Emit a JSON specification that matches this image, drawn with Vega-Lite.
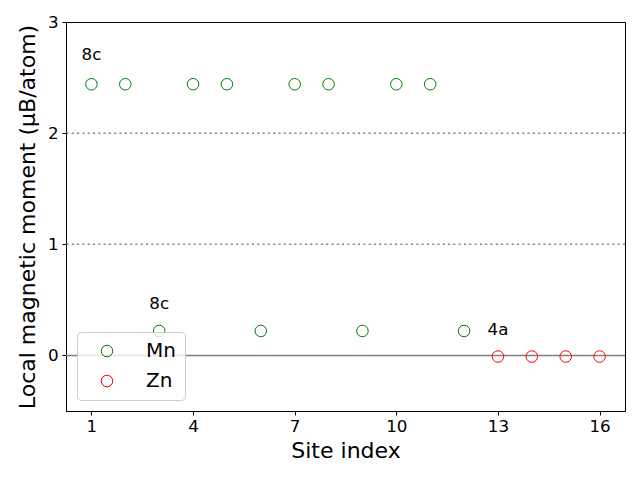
{
  "$schema": "https://vega.github.io/schema/vega-lite/v6.json",
  "width": 559,
  "height": 389,
  "autosize": {"type": "none"},
  "padding": {"left": 66, "top": 22, "right": 15, "bottom": 69},
  "background": "white",
  "config": {
    "font": "DejaVu Sans",
    "view": {"stroke": "black", "strokeWidth": 1}
  },
  "datasets": {
    "sites": [
      {"site": 1, "moment": 2.44, "element": "Mn"},
      {"site": 2, "moment": 2.44, "element": "Mn"},
      {"site": 3, "moment": 0.22, "element": "Mn"},
      {"site": 4, "moment": 2.44, "element": "Mn"},
      {"site": 5, "moment": 2.44, "element": "Mn"},
      {"site": 6, "moment": 0.22, "element": "Mn"},
      {"site": 7, "moment": 2.44, "element": "Mn"},
      {"site": 8, "moment": 2.44, "element": "Mn"},
      {"site": 9, "moment": 0.22, "element": "Mn"},
      {"site": 10, "moment": 2.44, "element": "Mn"},
      {"site": 11, "moment": 2.44, "element": "Mn"},
      {"site": 12, "moment": 0.22, "element": "Mn"},
      {"site": 13, "moment": -0.01, "element": "Zn"},
      {"site": 14, "moment": -0.01, "element": "Zn"},
      {"site": 15, "moment": -0.01, "element": "Zn"},
      {"site": 16, "moment": -0.01, "element": "Zn"}
    ],
    "labels": [
      {"site": 1, "moment": 2.7, "text": "8c"},
      {"site": 3, "moment": 0.46, "text": "8c"},
      {"site": 13, "moment": 0.23, "text": "4a"}
    ],
    "dotted": [{"y": 1}, {"y": 2}],
    "solid": [{"y": 0}]
  },
  "layer": [
    {
      "data": {"name": "dotted"},
      "mark": {"type": "rule", "color": "#808080", "strokeDash": [2, 3.3], "strokeWidth": 1.5},
      "encoding": {"y": {"field": "y", "type": "quantitative", "scale": {"domain": [-0.5, 3]}}}
    },
    {
      "data": {"name": "solid"},
      "mark": {"type": "rule", "color": "#808080", "strokeWidth": 1.5},
      "encoding": {"y": {"field": "y", "type": "quantitative"}}
    },
    {
      "data": {"name": "sites"},
      "mark": {"type": "point", "shape": "circle", "filled": false, "size": 133, "strokeWidth": 1, "opacity": 1},
      "encoding": {
        "x": {
          "field": "site", "type": "quantitative",
          "scale": {"domain": [0.25, 16.75], "nice": false, "zero": false},
          "axis": {
            "values": [1, 4, 7, 10, 13, 16], "format": "d", "title": "Site index",
            "grid": false, "domainColor": "black", "tickColor": "black", "tickSize": 4,
            "labelColor": "black", "labelFontSize": 16.7, "labelPadding": 3,
            "titleFontSize": 22, "titleFontWeight": "normal", "titleColor": "black", "titlePadding": 6
          }
        },
        "y": {
          "field": "moment", "type": "quantitative",
          "scale": {"domain": [-0.5, 3], "nice": false, "zero": false},
          "axis": {
            "values": [0, 1, 2, 3], "format": "d", "title": "Local magnetic moment (μB/atom)",
            "grid": false, "domainColor": "black", "tickColor": "black", "tickSize": 4,
            "labelColor": "black", "labelFontSize": 16.7, "labelPadding": 4,
            "titleFontSize": 22, "titleFontWeight": "normal", "titleColor": "black", "titlePadding": 8
          }
        },
        "color": {
          "field": "element", "type": "nominal",
          "scale": {"domain": ["Mn", "Zn"], "range": ["green", "red"]},
          "legend": {
            "title": null,
            "orient": "none",
            "legendX": 11,
            "legendY": 310,
            "fillColor": "rgba(255,255,255,0.8)",
            "strokeColor": "#cccccc",
            "cornerRadius": 4,
            "padding": 9,
            "labelFontSize": 20,
            "labelColor": "black",
            "labelOffset": 29,
            "symbolSize": 133,
            "symbolStrokeWidth": 1,
            "symbolType": "circle",
            "symbolOffset": 11,
            "rowPadding": 10,
            "labelLimit": 200
          }
        }
      }
    },
    {
      "data": {"name": "labels"},
      "mark": {"type": "text", "fontSize": 16.7, "color": "black", "align": "center", "baseline": "middle"},
      "encoding": {
        "x": {"field": "site", "type": "quantitative"},
        "y": {"field": "moment", "type": "quantitative"},
        "text": {"field": "text"}
      }
    }
  ]
}
